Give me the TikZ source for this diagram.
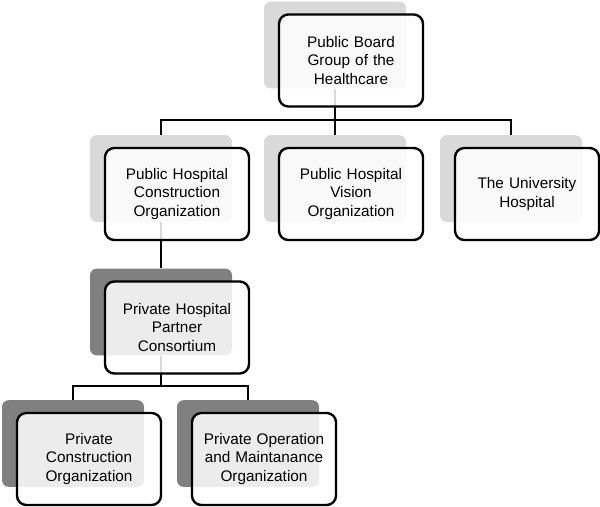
\documentclass[tikz,border=0pt]{standalone}
\usepackage{fontspec}
\setmainfont{Liberation Sans}
\usetikzlibrary{positioning}

\begin{document}
\begin{tikzpicture}[
                    x=0.75pt, y=-0.75pt,
                    back/.style={rectangle, fill=black!15, minimum width=106.5pt, minimum height=65pt, rounded corners=5pt},
                    darkback/.style={back, fill=black!50},
                    front/.style={rectangle, draw, line width=1.8pt, fill=white, fill opacity=0.85, text opacity=1, text width=100pt, align=center, minimum width=108pt, minimum height=69pt, rounded corners=7pt, font=\fontsize{11.5}{13.7}\selectfont},
                    line/.style={draw, line width=1.5pt}
                ]
                    \useasboundingbox (0,0) rectangle (600,507);

                    % Place shadow boxes
                    \node [back] (board) at (335,45) {};
                    \node [back] (pubcons) at (161,178.5) {};
                    \node [back] (vision) at (335,178.5) {};
                    \node [back] (univ) at (511,178.5) {};
                    \node [darkback] (consort) at (161,312) {};
                    \node [darkback] (privcons) at (73,443.5) {};
                    \node [darkback] (operation) at (248,443.5) {};

                    % Draw edges
                    \coordinate (bustop) at (335,120);
                    \coordinate (buslow) at (161,386);
                    \path [line] (board.south) -- (vision.north);
                    \path [line] (pubcons.north) |- (bustop) -| (univ.north);
                    \path [line] (pubcons.south) -- (consort.north);
                    \path [line] (consort.south) -- (buslow);
                    \path [line] (privcons.north) |- (buslow) -| (operation.north);

                    % Place text boxes
                    \node [front] (board-t) at ([shift={(16,15.5)}]board.center) {Public Board\\Group of the\\Healthcare};
                    \node [front] (pubcons-t) at ([shift={(16,15.5)}]pubcons.center) {Public Hospital\\Construction\\Organization};
                    \node [front] (vision-t) at ([shift={(16,15.5)}]vision.center) {Public Hospital\\Vision\\Organization};
                    \node [front] (univ-t) at ([shift={(16,15.5)}]univ.center) {The University\\Hospital};
                    \node [front] (consort-t) at ([shift={(16,15.5)}]consort.center) {Private Hospital\\Partner\\Consortium};
                    \node [front] (privcons-t) at ([shift={(16,15.5)}]privcons.center) {Private\\Construction\\Organization};
                    \node [front] (operation-t) at ([shift={(16,15.5)}]operation.center) {Private Operation\\and Maintanance\\Organization};
            \end{tikzpicture}
\end{document}
